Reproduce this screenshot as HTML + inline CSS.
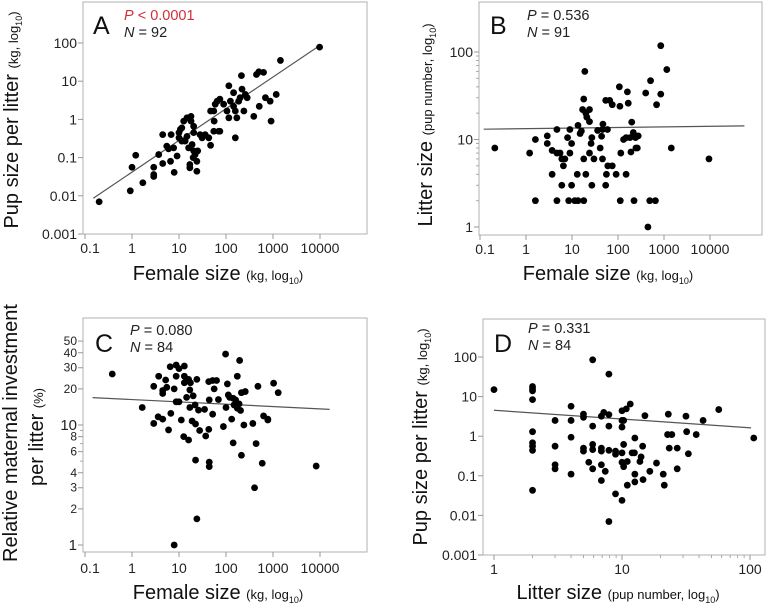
<!DOCTYPE html>
<html><head><meta charset="utf-8"><style>
html,body{margin:0;padding:0;background:#fff;}
svg{display:block;font-family:"Liberation Sans",Arial,sans-serif;}
</style></head><body>
<svg id="chart" width="767" height="607" viewBox="0 0 767 607"></svg>
<script>
// ---- Panel A: female size vs pup size per litter ----
const aX=[0.2,0.92,1.0,1.2,1.7,2.9,2.9,2.9,3.7,4.5,4.5,5.5,6,6.6,6.8,7.9,9.1,10,10,10.7,11.5,12.6,13.5,14.8,16,17,17,18,20,20.5,22,24,24,25,20.5,18,20.5,28,31,36,43,47,47,55,56,59,65,74,74,89,115,115,124,145,158,145,158,170,186,200,213,219,240,257,282,390,445,500,510,630,690,870,910,1170,1440,9800,11.5,7.7,14.8,19,55,70,105];
const aY=[0.007,0.0135,0.056,0.115,0.022,0.056,0.036,0.032,0.12,0.07,0.4,0.2,0.17,0.08,0.4,0.041,0.11,0.33,0.45,0.55,0.6,0.9,0.27,0.36,0.18,0.066,0.054,0.9,0.1,0.15,0.12,0.08,0.044,0.15,0.45,1.2,0.66,0.4,0.33,0.4,0.33,0.21,1.66,0.49,0.9,2.5,3,0.49,3.4,2.5,7.6,1.1,3.0,2.2,1.66,5,0.33,1.1,3.0,3.7,14,6.2,1.66,4.5,3.7,1.2,15,17.6,2.2,17,3.7,3.0,0.9,4.5,35,78,0.27,0.18,1.1,0.22,1.66,0.49,1.66];
const aFit=[-1.38,0.83]; // log10 intercept, slope
// ---- Panel B: female size vs litter size ----
const bX=[0.21,1.2,1.6,1.6,2.9,2.9,4.7,3.7,3.7,4.7,4.7,5.5,6,6.5,6,7,8,8.5,9,9,9.8,9.8,11.5,13,13.5,13.5,15,16,17,18,19,18,18,20,21,20,24,24,24,26,27,27,30,36,41,44,46,47,46,56,54,54,59,60,66,75,75,91,107,110,112,115,132,150,150,160,167,182,199,191,215,223,240,245,263,275,400,490,447,510,650,690,850,850,1150,1440,9500];
const bY=[8,7,10,2,11,9,13,7.5,4,2,7,7,6,5,3,6,10.5,2,13,7,9,3,2,4,14.5,2,11.7,12.5,22,29,60,2,6,20,18,4,16,22,7,9,10.5,3,6,12.7,8,10.9,13,15,6,4,3,28,13,5,28,25,5,4,40,24,2,7,10,10.5,4,35,26,10.5,15.8,7.2,12,2,10.5,8,8,11,34,2,1,47,2,25,33,118,63,8,6];
const bFit=[1.124,0.0067];
// ---- Panel C: female size vs relative maternal investment ----
const cX=[0.38,1.65,2.9,2.9,3.6,3.7,4.5,4.5,4.5,5.2,5.5,6,6.5,6.7,7.9,7.9,8.7,8.7,8.7,10,10,11.2,12.6,13,13,13,14.5,16,16,17,17,17.5,19,20,22,22.5,22.5,24,24,27.5,26,35,37,43,43,44,44,44,52,52,56,63,69,88,98,100,107,112,120,132,142,142,148,160,174,174,190,195,204,213,213,240,257,372,405,437,478,590,630,776,776,1030,1290,8300];
const cY=[26.6,14,10.3,21,11.7,25.5,11.2,18.3,19.4,23.7,20.6,9.1,30.6,12.5,20,1.0,31.6,25.5,15.6,29.5,15.6,11,8,31,25.5,22.5,17,24,7.5,19.6,14,22.5,10.8,17.5,14.7,10.2,5.1,24,1.65,9,13.3,13.5,8.1,23,9.2,16.2,4.9,4.5,12.3,23.5,20,23.5,16.3,9.7,39,14,22,17.8,17,11.2,16.7,7.1,14.7,16.2,13.8,25.5,15,34.5,13.2,5.6,18.6,10,19,10.3,3.0,7,21,4.8,11.9,11.2,11,22.3,18.6,4.55];
const cFit=[1.212,-0.0194];
// ---- Panel D: litter size vs pup size per litter ----
const dX=[1,2,2,2,2,2,2,2,2,2,3,3,3,3,4,4,4,4,5,5,5,5,5.5,5.9,5.9,5.9,5.9,5.9,6.9,6.9,6.9,6.9,6.9,7.2,7.4,7.9,7.9,7.9,7.9,7.9,8.9,8.9,8.9,10,10,10,10,10,10,10.3,10.3,10.3,10.8,11,11,11.6,12,12.5,12.6,12.6,12.6,13.8,14.1,14.5,14.6,15.1,16.5,18.6,21,21.4,22.7,23,23.4,24.5,27,27,31.6,32,33,38,43,57,107];
const dY=[15,18,16,14,8.4,1.3,0.68,0.56,0.44,0.043,2.5,0.56,0.19,0.15,5.7,2.5,0.94,0.11,3.6,3.0,0.5,0.42,0.22,85,1.8,0.62,0.46,0.15,3.2,0.5,0.42,0.19,0.076,4,0.13,37,3.5,1.8,0.44,0.007,0.42,0.35,0.035,4.4,2.5,1.7,0.38,0.22,0.024,2.5,0.62,0.17,4.9,0.058,0.23,6.5,0.38,0.38,0.9,0.11,0.07,0.23,0.3,0.56,0.08,3.3,0.13,0.21,0.11,0.058,1.1,3.6,0.5,1.1,0.5,0.15,3.2,1.3,0.36,1.1,2.5,4.7,0.9];
const dFit=[0.655,-0.221];

const xTicksFemale=[0.1,1,10,100,1000,10000];
const xTickLabelsFemale=["0.1","1","10","100","1000","10000"];
const yTicksA=[0.001,0.01,0.1,1,10,100];
const yTickLabelsA=["0.001","0.01","0.1","1","10","100"];
const yTicksB=[1,10,100];
const yTickLabelsB=["1","10","100"];
const yTicksC=[1,2,3,4,6,8,10,20,30,40,50];
const yTickLabelsC=["1","2","3","4","6","8","10","20","30","40","50"];
const xTicksD=[1,10,100];
const xTickLabelsD=["1","10","100"];

const NS="http://www.w3.org/2000/svg";
const svg=document.getElementById('chart');
function mk(tag,attrs,parent){const e=document.createElementNS(NS,tag);for(const k in attrs)e.setAttribute(k,attrs[k]);(parent||svg).appendChild(e);return e;}
function logScale(v0,p0,v1,p1){const l0=Math.log10(v0),l1=Math.log10(v1);return v=>p0+(Math.log10(v)-l0)/(l1-l0)*(p1-p0);}

function panel(cfg){
  const g=mk('g',{});
  
  
  const {L,T,R,B}=cfg.box;
  const fr=mk('rect',{x:L,y:T,width:R-L,height:B-T,fill:'none',stroke:'#b0b0b0','stroke-width':1},g);
  
  
  cfg.xt.forEach((t,i)=>{
    const x=cfg.sx(t);
    const tk=mk('line',{x1:x,x2:x,y1:B,y2:B+5,stroke:'#999'},g);
    
    
    const tx=mk('text',{x:x+(i===0&&cfg.firstShift?5:0),y:B+cfg.xlOff,'text-anchor':'middle','font-size':14,fill:'#222'},g);
    tx.textContent=cfg.xl[i];
    
    
  });
  (cfg.xMinor||[]).forEach(t=>{const x=cfg.sx(t);mk('line',{x1:x,x2:x,y1:B,y2:B+3,stroke:'#aaa'},g);});
  cfg.yt.forEach((t,i)=>{
    const y=cfg.sy(t);
    const tk=mk('line',{x1:L-5,x2:L,y1:y,y2:y,stroke:'#999'},g);
    
    
    const big=!cfg.ySmall||cfg.yl[i]==="1"||cfg.yl[i]==="10";
    const tx=mk('text',{x:L-6,y:y+(big?5:4),'text-anchor':'end','font-size':big?(cfg.ySmall?15:14):12,fill:'#222'},g);
    tx.textContent=cfg.yl[i];
    
    
  });
  (cfg.yMinor||[]).forEach(t=>{const y=cfg.sy(t);mk('line',{x1:L-3,x2:L,y1:y,y2:y,stroke:'#aaa'},g);});
  const f=v=>Math.pow(10,cfg.fit[0]+cfg.fit[1]*Math.log10(v));
  const fl=mk('line',{x1:cfg.sx(cfg.fitR[0]),y1:cfg.sy(f(cfg.fitR[0])),x2:cfg.sx(cfg.fitR[1]),y2:cfg.sy(f(cfg.fitR[1])),stroke:'#555','stroke-width':1.2},g);
  
  
  cfg.X.forEach((v,i)=>{
    const c=mk('circle',{cx:cfg.sx(v),cy:cfg.sy(cfg.Y[i]),r:3.4,fill:'#000'},g);
    
    
  });
  const lt=mk('text',{x:cfg.lab[0],y:cfg.lab[1],'font-size':25,fill:'#111'},g);
  lt.textContent=cfg.letter;
  
  
  const p=mk('text',{x:cfg.stat[0],y:cfg.stat[1],'font-size':14.5,fill:cfg.pColor||'#222'},g);
  p.innerHTML='<tspan font-style="italic">P</tspan> '+cfg.p;
  
  
  const n=mk('text',{x:cfg.stat[0],y:cfg.stat[1]+17,'font-size':14.5,fill:'#222'},g);
  n.innerHTML='<tspan font-style="italic">N</tspan> = '+cfg.n;
  
  
}

const sxA=logScale(0.1,85,1,132);
panel({name:'panel-a',box:{L:83,T:2,R:367,B:234},sx:sxA,sy:logScale(0.001,234,100,43),xlOff:19,
  xt:xTicksFemale,xl:xTickLabelsFemale,yt:yTicksA,yl:yTickLabelsA,firstShift:true,
  X:aX,Y:aY,fit:aFit,fitR:[0.15,9800],letter:'A',lab:[93,34],stat:[124,20],p:'&lt; 0.0001',n:'92',pColor:'#d0303a'});
const sxB=logScale(0.1,480,1,526);
panel({name:'panel-b',box:{L:479,T:2,R:762,B:235},sx:sxB,sy:logScale(1,227,100,52),xlOff:19,
  xt:xTicksFemale,xl:xTickLabelsFemale,yt:yTicksB,yl:yTickLabelsB,firstShift:true,
  yMinor:[2,3,4,5,6,7,8,9,20,30,40,50,60,70,80,90],
  X:bX,Y:bY,fit:bFit,fitR:[0.12,56000],letter:'B',lab:[490,34],stat:[527,20],p:'= 0.536',n:'91'});
panel({name:'panel-c',box:{L:83,T:318,R:367,B:552},sx:sxA,sy:logScale(1,545,10,425),xlOff:21,
  xt:xTicksFemale,xl:xTickLabelsFemale,yt:yTicksC,yl:yTickLabelsC,ySmall:true,firstShift:true,
  yMinor:[5,7,9],
  X:cX,Y:cY,fit:cFit,fitR:[0.145,16000],letter:'C',lab:[95,352],stat:[130,335],p:'= 0.080',n:'84'});
panel({name:'panel-d',box:{L:483,T:319,R:765,B:555},sx:logScale(1,494,10,622),sy:logScale(0.001,555,100,357),xlOff:19,
  xt:xTicksD,xl:xTickLabelsD,yt:yTicksA,yl:yTickLabelsA,
  xMinor:[2,3,4,5,6,7,8,9,20,30,40,50,60,70,80,90],
  X:dX,Y:dY,fit:dFit,fitR:[1,102],letter:'D',lab:[494,352],stat:[528,333],p:'= 0.331',n:'84'});

function title(x,y,rot,html,name){
  const t=mk('text',{x:x,y:y,'text-anchor':'middle','font-size':20,fill:'#111',transform:rot?`rotate(-90 ${x} ${y})`:''});
  t.innerHTML=html;
  
  
}
const sub=(s)=>`<tspan font-size="13">${s}</tspan>`;
const log10=`<tspan font-size="13">log</tspan><tspan font-size="9" dy="4">10</tspan><tspan font-size="13" dy="-4">)</tspan>`;
title(218,280,false,'Female size '+sub('(kg, ')+log10,'x-axis-title-a');
title(608,280,false,'Female size '+sub('(kg, ')+log10,'x-axis-title-b');
title(218,599,false,'Female size '+sub('(kg, ')+log10,'x-axis-title-c');
title(618,599,false,'Litter size '+sub('(pup number, ')+log10,'x-axis-title-d');
title(18,120,true,'Pup size per litter '+sub('(kg, ')+log10,'y-axis-title-a');
title(432,125,true,'Litter size '+sub('(pup number, ')+log10,'y-axis-title-b');
title(17,433,true,'Relative maternal investment','y-axis-title-c-line1');
title(43,437,true,'per litter '+sub('(%)'),'y-axis-title-c-line2');
title(427,437,true,'Pup size per litter '+sub('(kg, ')+log10,'y-axis-title-d');
</script>
</body></html>
